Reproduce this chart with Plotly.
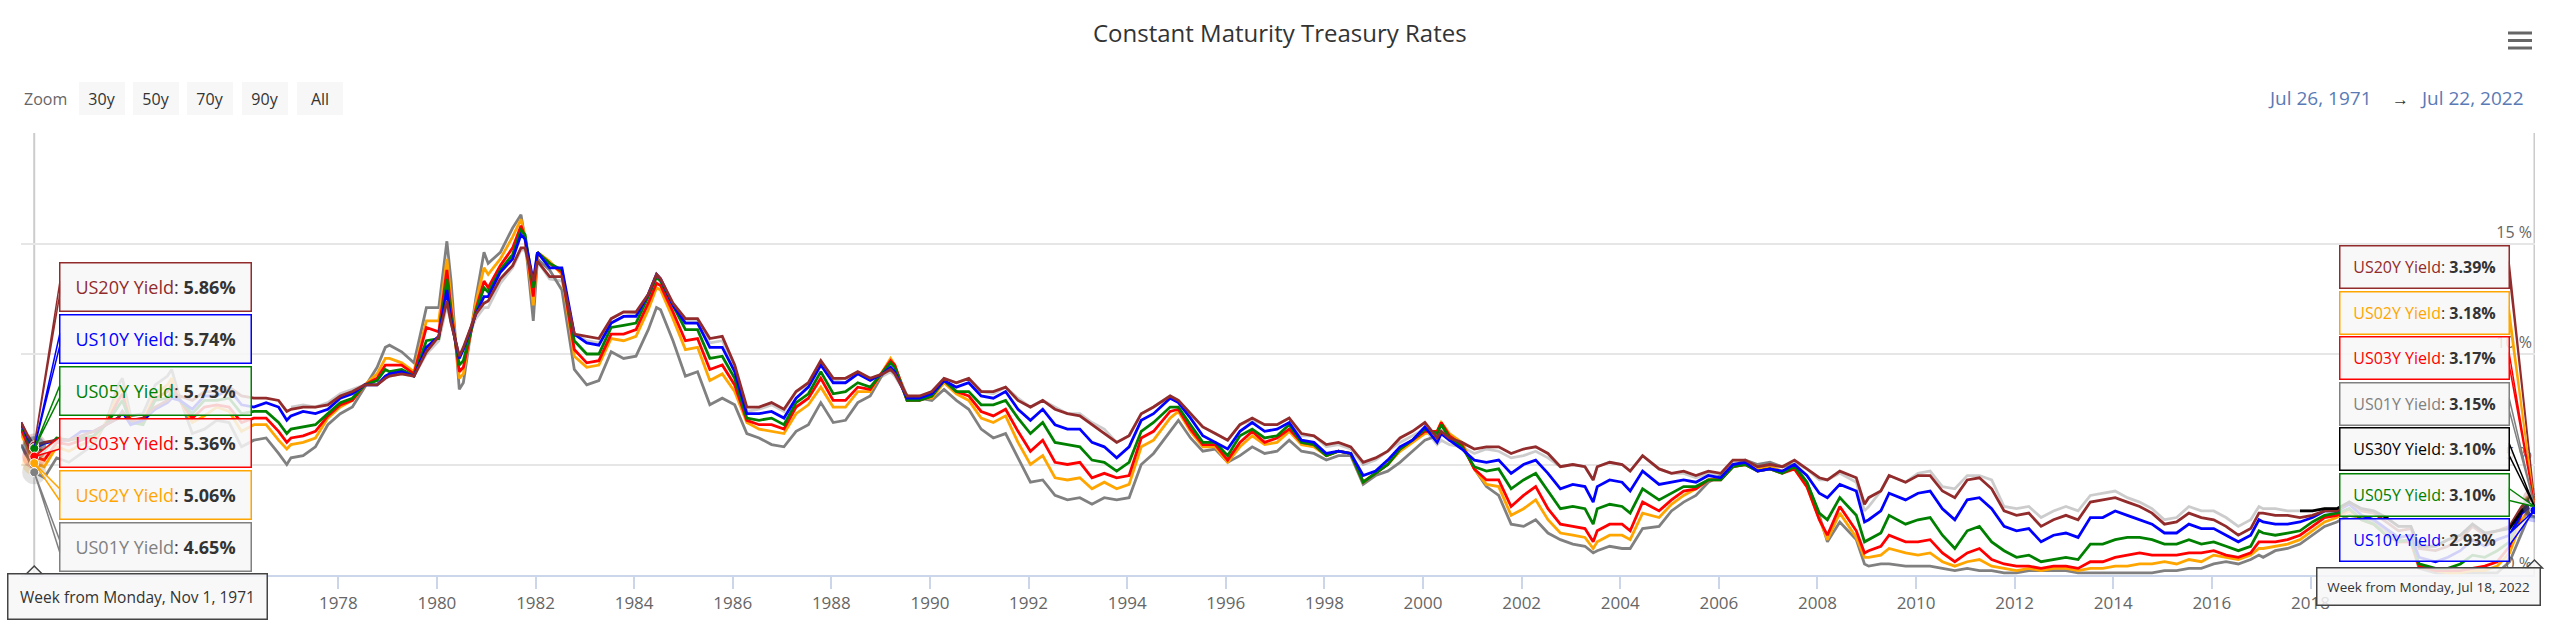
import datetime as dt
import plotly.graph_objects as go

# ---------------- data (approximate readings, percent) ----------------
dates = [
    "1971-07-26", "1971-09-15", "1971-11-01",
    "1972-01-15", "1972-04-15", "1972-07-15", "1972-10-15",
    "1973-01-15", "1973-04-15", "1973-07-15", "1973-08-15", "1973-10-15",
    "1974-01-15", "1974-04-15", "1974-07-15", "1974-08-15", "1974-10-15",
    "1975-01-15", "1975-04-15", "1975-07-15", "1975-10-15",
    "1976-01-15", "1976-04-15", "1976-07-15", "1976-10-15", "1976-12-15",
    "1977-01-15", "1977-04-15", "1977-07-15", "1977-10-15",
    "1978-01-15", "1978-04-15", "1978-07-15", "1978-10-15", "1978-12-15",
    "1979-01-15", "1979-04-15", "1979-07-15", "1979-10-15",
    "1980-01-15", "1980-03-15", "1980-04-15", "1980-06-15", "1980-07-15", "1980-10-15", "1980-12-15",
    "1981-01-15", "1981-04-15", "1981-07-15", "1981-09-15", "1981-10-15", "1981-12-15",
    "1982-01-15", "1982-04-15", "1982-07-15", "1982-10-15",
    "1983-01-15", "1983-04-15", "1983-07-15", "1983-10-15",
    "1984-01-15", "1984-04-15", "1984-06-15", "1984-07-15", "1984-10-15",
    "1985-01-15", "1985-04-15", "1985-07-15", "1985-10-15",
    "1986-01-15", "1986-04-15", "1986-07-15", "1986-10-15",
    "1987-01-15", "1987-04-15", "1987-07-15", "1987-10-15",
    "1988-01-15", "1988-04-15", "1988-07-15", "1988-10-15",
    "1989-01-15", "1989-03-15", "1989-04-15", "1989-07-15", "1989-10-15",
    "1990-01-15", "1990-04-15", "1990-07-15", "1990-10-15",
    "1991-01-15", "1991-04-15", "1991-07-15", "1991-10-15",
    "1992-01-15", "1992-04-15", "1992-07-15", "1992-10-15",
    "1993-01-15", "1993-04-15", "1993-07-15", "1993-10-15",
    "1994-01-15", "1994-04-15", "1994-07-15", "1994-11-15",
    "1995-01-15", "1995-04-15", "1995-07-15", "1995-10-15",
    "1996-01-15", "1996-04-15", "1996-07-15", "1996-10-15",
    "1997-01-15", "1997-04-15", "1997-07-15", "1997-10-15",
    "1998-01-15", "1998-04-15", "1998-07-15", "1998-10-15",
    "1999-01-15", "1999-04-15", "1999-07-15", "1999-10-15",
    "2000-01-15", "2000-04-15", "2000-05-15", "2000-07-15", "2000-10-15",
    "2001-01-15", "2001-04-15", "2001-07-15", "2001-10-15",
    "2002-01-15", "2002-04-15", "2002-07-15", "2002-10-15",
    "2003-01-15", "2003-04-15", "2003-06-15", "2003-07-15", "2003-10-15",
    "2004-01-15", "2004-03-15", "2004-06-15", "2004-10-15",
    "2005-01-15", "2005-04-15", "2005-07-15", "2005-10-15",
    "2006-01-15", "2006-04-15", "2006-07-15", "2006-10-15",
    "2007-01-15", "2007-04-15", "2007-07-15", "2007-10-15",
    "2008-01-15", "2008-03-15", "2008-06-15", "2008-10-15", "2008-12-15",
    "2009-01-15", "2009-04-15", "2009-06-15", "2009-10-15",
    "2010-01-15", "2010-04-15", "2010-07-15", "2010-10-15",
    "2011-01-15", "2011-04-15", "2011-07-15", "2011-10-15",
    "2012-01-15", "2012-04-15", "2012-07-15", "2012-10-15",
    "2013-01-15", "2013-04-15", "2013-07-15", "2013-10-15",
    "2014-01-15", "2014-04-15", "2014-07-15", "2014-10-15",
    "2015-01-15", "2015-04-15", "2015-07-15", "2015-10-15",
    "2016-01-15", "2016-04-15", "2016-07-15", "2016-10-15", "2016-12-15",
    "2017-01-15", "2017-04-15", "2017-07-15", "2017-10-15",
    "2018-01-15", "2018-04-15", "2018-07-15", "2018-10-15",
    "2019-01-15", "2019-04-15", "2019-07-15", "2019-10-15",
    "2020-01-15", "2020-03-15", "2020-07-15", "2020-10-15",
    "2021-01-15", "2021-04-15", "2021-07-15", "2021-10-15",
    "2022-01-15", "2022-04-15", "2022-06-15", "2022-07-18",
]

us01y = [
    5.9, 5.3, 4.65,
    4.4, 5.3, 5.1, 5.5,
    5.9, 6.9, 8.6, 8.9, 7.2,
    7.3, 8.6, 9.0, 9.3, 8.0,
    6.4, 6.6, 7.0, 6.9,
    5.8, 6.1, 6.2, 5.5, 5.0,
    5.3, 5.4, 5.8, 6.8,
    7.3, 7.6, 8.5, 9.4, 10.3,
    10.4, 10.1, 9.6, 12.1,
    12.1, 15.1, 13.3, 8.4, 8.7, 12.5, 14.6,
    14.1, 14.6, 15.7, 16.3, 15.2, 11.5,
    14.3, 13.8, 12.9, 9.3,
    8.6, 8.8, 10.1, 9.8,
    9.9, 11.1, 12.1, 12.0, 10.6,
    9.0, 9.2, 7.7, 8.0,
    7.7, 6.4, 6.2, 5.9,
    5.8, 6.5, 6.8, 7.8,
    6.9, 7.0, 7.8, 8.1,
    9.1, 9.7, 9.4, 8.1, 8.0,
    7.9, 8.4, 7.9, 7.5,
    6.6, 6.2, 6.4, 5.3,
    4.2, 4.3, 3.6, 3.4,
    3.5, 3.2, 3.5, 3.4,
    3.5, 5.0, 5.5, 6.5,
    7.0, 6.2, 5.6, 5.7,
    5.1, 5.4, 5.8, 5.5,
    5.6, 6.1, 5.6, 5.5,
    5.2, 5.4, 5.4, 4.1,
    4.5, 4.7, 5.1, 5.6,
    6.1, 6.3, 6.5, 6.1, 6.0,
    4.8, 4.0, 3.6, 2.3,
    2.2, 2.5, 1.9, 1.6,
    1.4, 1.3, 1.0, 1.1, 1.3,
    1.2, 1.2, 2.1, 2.2,
    2.9, 3.3, 3.6, 4.2,
    4.5, 4.9, 5.2, 5.0,
    5.1, 4.9, 5.0, 4.2,
    2.7, 1.5, 2.4, 1.6, 0.5,
    0.4, 0.5, 0.5, 0.4,
    0.4, 0.4, 0.3, 0.2,
    0.3, 0.2, 0.2, 0.1,
    0.1, 0.2, 0.2, 0.2,
    0.2, 0.1, 0.1, 0.1,
    0.1, 0.1, 0.1, 0.1,
    0.2, 0.2, 0.3, 0.3,
    0.5, 0.6, 0.5, 0.7, 0.9,
    0.8, 1.1, 1.2, 1.4,
    1.8, 2.2, 2.4, 2.7,
    2.6, 2.4, 2.0, 1.6,
    1.5, 0.3, 0.1, 0.1,
    0.1, 0.1, 0.1, 0.1,
    0.6, 1.9, 2.8, 3.15,
]

us02y = [
    6.4, 5.7, 5.06,
    4.9, 5.8, 5.6, 5.9,
    6.1, 6.9, 8.2, 8.5, 7.0,
    7.0, 8.2, 8.6, 8.9, 7.9,
    6.9, 7.2, 7.6, 7.4,
    6.5, 6.8, 6.8, 6.1, 5.7,
    5.9, 6.0, 6.2, 7.1,
    7.6, 7.9, 8.6, 9.1, 9.8,
    9.8, 9.6, 9.2, 11.5,
    11.5, 14.3, 12.5, 8.9, 9.1, 12.3, 13.9,
    13.6, 14.3, 15.3, 16.1, 15.3, 12.2,
    14.6, 14.2, 13.6, 9.9,
    9.4, 9.5, 10.7, 10.6,
    10.8, 12.0, 13.0, 12.9, 11.6,
    10.2, 10.3, 8.8, 9.1,
    8.3, 6.9, 6.6, 6.5,
    6.4, 7.3, 7.7, 8.5,
    7.6, 7.6, 8.3, 8.3,
    9.2, 9.8, 9.5, 7.9, 8.0,
    8.0, 8.7, 8.2, 7.9,
    7.1, 6.9, 7.2, 6.0,
    5.0, 5.4, 4.4, 4.3,
    4.4, 3.9, 4.2, 3.9,
    4.1, 5.8, 6.1, 7.1,
    7.4, 6.5, 5.8, 5.8,
    5.1, 5.8, 6.3, 5.9,
    6.0, 6.5, 5.9, 5.8,
    5.4, 5.6, 5.5, 4.2,
    4.6, 5.0, 5.6, 6.0,
    6.4, 6.5, 6.9, 6.4, 6.0,
    4.8, 4.1, 4.0, 2.7,
    3.0, 3.4, 2.5, 1.9,
    1.8, 1.7, 1.2, 1.5, 1.8,
    1.8, 1.6, 2.8, 2.6,
    3.2, 3.6, 3.9, 4.3,
    4.4, 4.9, 5.0, 4.8,
    4.9, 4.7, 4.8, 4.0,
    2.5, 1.6, 2.8, 1.7, 0.8,
    0.8, 0.9, 1.2, 1.0,
    0.9, 1.0, 0.6, 0.4,
    0.6, 0.7, 0.4, 0.3,
    0.2, 0.3, 0.2, 0.3,
    0.3, 0.2, 0.3, 0.3,
    0.4, 0.4, 0.5, 0.5,
    0.6, 0.5, 0.7, 0.6,
    0.9, 0.8, 0.7, 0.9, 1.2,
    1.2, 1.3, 1.4, 1.6,
    2.0, 2.4, 2.6, 2.9,
    2.5, 2.3, 1.8, 1.5,
    1.5, 0.4, 0.2, 0.1,
    0.1, 0.2, 0.2, 0.4,
    1.0, 2.5, 3.0, 3.18,
]

us03y = [
    6.6, 5.9, 5.36,
    5.2, 6.0, 5.9, 6.1,
    6.3, 6.8, 7.9, 8.2, 6.9,
    6.9, 8.0, 8.3, 8.6, 7.9,
    7.1, 7.6, 7.7, 7.6,
    6.9, 7.1, 7.1, 6.5, 6.0,
    6.2, 6.3, 6.5, 7.2,
    7.7, 7.9, 8.6, 8.9, 9.5,
    9.5, 9.5, 9.1, 11.2,
    11.0, 13.8, 12.0, 9.2, 9.4, 12.0, 13.3,
    13.0, 14.0, 14.8, 15.8, 15.3, 12.6,
    14.6, 14.1, 13.7, 10.2,
    9.6, 9.7, 10.9, 10.9,
    11.1, 12.3, 13.2, 13.1, 11.9,
    10.6, 10.7, 9.3, 9.5,
    8.6, 7.0, 6.8, 6.8,
    6.6, 7.6, 8.0, 8.9,
    7.9, 7.9, 8.5, 8.4,
    9.2, 9.7, 9.5, 7.9, 7.9,
    8.1, 8.8, 8.3, 8.1,
    7.4, 7.2, 7.5, 6.5,
    5.6, 6.1, 5.1, 5.0,
    5.1, 4.4, 4.6, 4.4,
    4.5, 6.2, 6.5, 7.4,
    7.5, 6.6, 5.9, 5.9,
    5.2, 6.0, 6.5, 6.0,
    6.2, 6.6, 6.0, 5.9,
    5.4, 5.6, 5.5, 4.2,
    4.6, 5.0, 5.7, 6.1,
    6.5, 6.5, 6.9, 6.3, 5.9,
    4.8, 4.3, 4.3, 3.1,
    3.6, 4.0, 3.0, 2.3,
    2.2, 2.1, 1.5, 2.0, 2.3,
    2.3, 2.0, 3.3, 2.9,
    3.4, 3.8, 3.9, 4.3,
    4.3, 4.9, 5.0, 4.7,
    4.8, 4.6, 4.8, 4.0,
    2.5, 1.8, 3.1, 2.0, 1.0,
    1.1, 1.3, 1.8, 1.5,
    1.5, 1.6, 1.0, 0.6,
    1.0, 1.2, 0.7, 0.5,
    0.4, 0.4, 0.3, 0.4,
    0.4, 0.3, 0.6, 0.6,
    0.8, 0.9, 1.0, 0.9,
    0.9, 0.9, 1.0, 1.0,
    1.1, 0.9, 0.8, 1.0, 1.5,
    1.5, 1.5, 1.6, 1.8,
    2.2, 2.6, 2.7, 3.0,
    2.5, 2.3, 1.8, 1.5,
    1.5, 0.4, 0.2, 0.2,
    0.2, 0.3, 0.4, 0.6,
    1.3, 2.8, 3.2, 3.17,
]

us05y = [
    6.8, 6.1, 5.73,
    5.6, 6.2, 6.1, 6.2,
    6.3, 6.8, 7.6, 7.9, 6.9,
    6.8, 7.9, 8.0, 8.3, 7.9,
    7.3, 7.9, 7.9, 8.0,
    7.3, 7.4, 7.4, 6.9, 6.4,
    6.6, 6.7, 6.8, 7.3,
    7.8, 8.0, 8.6, 8.8, 9.3,
    9.2, 9.3, 9.0, 10.6,
    10.7, 13.4, 11.7, 9.5, 9.7, 11.9, 13.0,
    12.8, 13.8, 14.5, 15.6, 15.4, 13.0,
    14.6, 14.1, 13.8, 10.6,
    10.0, 10.0, 11.2, 11.3,
    11.4, 12.6, 13.5, 13.3, 12.2,
    11.1, 11.1, 9.8, 9.9,
    8.9, 7.1, 7.0, 7.1,
    6.8, 7.8, 8.2, 9.2,
    8.2, 8.3, 8.7, 8.5,
    9.2, 9.6, 9.4, 7.9, 7.9,
    8.1, 8.8, 8.3, 8.3,
    7.7, 7.7, 7.9, 7.1,
    6.4, 6.9, 6.0, 5.9,
    5.8, 5.2, 5.1, 4.7,
    5.1, 6.5, 6.9, 7.6,
    7.6, 6.8, 6.0, 6.0,
    5.4, 6.3, 6.6, 6.2,
    6.3, 6.8, 6.0, 5.9,
    5.4, 5.6, 5.5, 4.2,
    4.6, 5.0, 5.7, 6.1,
    6.6, 6.4, 6.8, 6.2, 5.8,
    4.9, 4.7, 4.8, 3.9,
    4.3, 4.6, 3.8, 3.0,
    3.1, 3.0, 2.3, 3.0, 3.2,
    3.1, 2.8, 3.9, 3.4,
    3.7, 4.0, 4.0, 4.3,
    4.3, 4.9, 5.0, 4.7,
    4.8, 4.6, 4.9, 4.2,
    2.8, 2.5, 3.5, 2.7, 1.5,
    1.6, 1.9, 2.7, 2.3,
    2.5, 2.6, 1.8, 1.2,
    2.0, 2.2, 1.5, 1.1,
    0.8, 0.9, 0.6, 0.7,
    0.8, 0.7, 1.4, 1.4,
    1.6, 1.7, 1.7, 1.6,
    1.4, 1.4, 1.6, 1.4,
    1.5, 1.3, 1.1, 1.3, 2.0,
    1.9, 1.8, 1.9, 2.0,
    2.4, 2.7, 2.8, 3.0,
    2.5, 2.3, 1.8, 1.5,
    1.6, 0.5, 0.3, 0.3,
    0.5, 0.9, 0.8, 1.1,
    1.5, 2.9, 3.2, 3.10,
]

us10y = [
    6.9, 6.2, 5.74,
    5.95, 6.1, 6.1, 6.5,
    6.5, 6.8, 7.1, 7.4, 6.8,
    7.0, 7.5, 7.8, 8.0, 7.9,
    7.5, 8.1, 8.1, 8.4,
    7.7, 7.6, 7.8, 7.6, 7.0,
    7.2, 7.4, 7.3, 7.5,
    8.0, 8.2, 8.6, 8.6, 9.0,
    9.1, 9.2, 9.0, 10.3,
    10.8, 12.9, 11.5, 9.8, 10.2, 11.8, 12.6,
    12.6, 13.7, 14.3, 15.4, 15.2, 13.3,
    14.6, 13.9, 13.9, 10.9,
    10.5, 10.4, 11.4, 11.7,
    11.7, 12.7, 13.6, 13.4, 12.2,
    11.4, 11.4, 10.3, 10.3,
    9.2, 7.3, 7.3, 7.4,
    7.1, 8.0, 8.5, 9.5,
    8.7, 8.7, 9.1, 8.8,
    9.1, 9.4, 9.2, 8.0, 8.0,
    8.2, 8.8, 8.5, 8.7,
    8.1, 8.0, 8.3, 7.5,
    7.0, 7.5, 6.8, 6.6,
    6.6, 6.0, 5.8, 5.3,
    5.8, 7.0, 7.3, 8.0,
    7.8, 7.1, 6.3, 6.0,
    5.7, 6.5, 6.9, 6.5,
    6.6, 6.9, 6.1, 6.0,
    5.5, 5.6, 5.5, 4.5,
    4.7, 5.2, 5.8, 6.1,
    6.7, 6.0, 6.4, 6.1, 5.7,
    5.2, 5.1, 5.2, 4.6,
    5.0, 5.2, 4.6, 3.9,
    4.1, 4.0, 3.3, 4.0, 4.3,
    4.2, 3.8, 4.7, 4.1,
    4.2, 4.3, 4.2, 4.5,
    4.4, 5.0, 5.1, 4.7,
    4.8, 4.7, 5.0, 4.5,
    3.7, 3.5, 4.1, 3.8, 2.4,
    2.5, 2.9, 3.7, 3.4,
    3.7, 3.8, 3.0, 2.5,
    3.4, 3.5, 3.0, 2.2,
    2.0, 2.1, 1.5, 1.8,
    1.9, 1.7, 2.6, 2.6,
    2.9, 2.7, 2.5, 2.3,
    1.9, 1.9, 2.3, 2.1,
    2.1, 1.8, 1.5, 1.8, 2.5,
    2.4, 2.3, 2.3, 2.4,
    2.6, 2.9, 2.9, 3.2,
    2.7, 2.5, 2.1, 1.7,
    1.8, 0.8, 0.6, 0.8,
    1.1, 1.6, 1.3, 1.6,
    1.8, 2.8, 3.1, 2.93,
]

us20y = [
    6.9, 6.3, 5.86,
    6.0, 6.1, 6.1, 6.3,
    6.5, 6.8, 7.1, 7.4, 7.0,
    7.1, 7.6, 7.9, 8.1, 8.1,
    7.9, 8.3, 8.3, 8.5,
    8.1, 8.0, 8.0, 7.9, 7.4,
    7.5, 7.6, 7.6, 7.7,
    8.1, 8.3, 8.6, 8.6, 8.9,
    9.0, 9.1, 9.0, 10.1,
    10.8, 12.4, 11.4, 9.9, 10.3, 11.8, 12.3,
    12.4, 13.4, 14.0, 14.8, 14.8, 13.3,
    14.2, 13.5, 13.5, 10.9,
    10.8, 10.7, 11.6, 11.9,
    11.9, 12.7, 13.6, 13.4, 12.3,
    11.6, 11.6, 10.7, 10.8,
    9.5, 7.6, 7.6, 7.8,
    7.5, 8.3, 8.7, 9.7,
    8.9, 8.9, 9.2, 8.9,
    9.1, 9.3, 9.1, 8.1, 8.1,
    8.3, 8.9, 8.7, 8.9,
    8.3, 8.3, 8.5, 7.9,
    7.6, 7.9, 7.5, 7.3,
    7.2, 6.8, 6.4, 6.0,
    6.3, 7.3, 7.6, 8.1,
    7.9, 7.3, 6.7, 6.4,
    6.1, 6.8, 7.1, 6.8,
    6.8, 7.1, 6.4, 6.3,
    5.9, 6.0, 5.8, 5.1,
    5.3, 5.6, 6.2, 6.5,
    6.9, 6.2, 6.5, 6.2, 6.0,
    5.7, 5.8, 5.8, 5.5,
    5.7, 5.8, 5.5, 4.9,
    5.0, 4.9, 4.3, 4.9, 5.1,
    5.0, 4.7, 5.4, 4.8,
    4.6, 4.7, 4.5, 4.7,
    4.6, 5.2, 5.2, 4.9,
    5.0, 4.9, 5.2, 4.8,
    4.4, 4.3, 4.7, 4.4, 3.2,
    3.5, 3.8, 4.5, 4.2,
    4.5, 4.5, 3.8, 3.5,
    4.3, 4.4, 3.9, 2.9,
    2.7, 2.8, 2.2, 2.5,
    2.7, 2.5, 3.3, 3.4,
    3.5, 3.3, 3.1, 2.8,
    2.3, 2.4, 2.8, 2.6,
    2.5, 2.2, 1.8, 2.1, 2.8,
    2.8, 2.7, 2.7, 2.6,
    2.7, 2.9, 2.9, 3.3,
    2.9, 2.8, 2.4, 2.0,
    2.1, 1.2, 1.1, 1.3,
    1.6, 2.2, 1.8, 2.0,
    2.2, 3.1, 3.5, 3.39,
]

us30y_start = "1977-01-15"
us30y = [
    7.6, 7.7, 7.6, 7.8,
    8.2, 8.4, 8.6, 8.6, 8.9,
    9.0, 9.1, 9.0, 10.0,
    10.6, 12.2, 11.4, 9.9, 10.2, 11.6, 12.1,
    12.1, 13.2, 13.9, 14.7, 14.7, 13.2,
    14.2, 13.4, 13.3, 10.9,
    10.6, 10.5, 11.4, 11.7,
    11.8, 12.6, 13.4, 13.3, 12.1,
    11.5, 11.5, 10.5, 10.6,
    9.4, 7.4, 7.5, 7.7,
    7.4, 8.3, 8.6, 9.6,
    8.8, 8.9, 9.1, 8.9,
    9.0, 9.2, 9.0, 8.1, 8.0,
    8.3, 8.9, 8.7, 8.9,
    8.3, 8.2, 8.5, 8.0,
    7.6, 7.9, 7.6, 7.3,
    7.3, 6.9, 6.6, 6.0,
    6.3, 7.3, 7.6, 8.1,
    7.9, 7.3, 6.7, 6.4,
    6.1, 6.8, 7.0, 6.8,
    6.8, 7.1, 6.3, 6.3,
    5.8, 5.9, 5.7, 5.0,
    5.2, 5.6, 6.0, 6.3,
    6.6, 5.9, 6.1, 5.9, 5.8,
    5.5, 5.7, 5.6, 5.3,
    5.4, 5.6, 5.3, 4.9,
    5.0, 4.9, 4.3, 4.9, 5.1,
    5.0, 4.7, 5.4, 4.8,
    4.6, 4.6, 4.4, 4.6,
    4.5, 5.1, 5.1, 4.8,
    4.9, 4.9, 5.1, 4.8,
    4.3, 4.3, 4.6, 4.2, 2.9,
    3.1, 3.8, 4.5, 4.2,
    4.6, 4.7, 4.0, 3.9,
    4.5, 4.5, 4.3, 3.1,
    3.0, 3.1, 2.6, 2.9,
    3.1, 2.9, 3.6, 3.7,
    3.8, 3.5, 3.3, 3.0,
    2.5, 2.6, 3.1, 2.9,
    2.9, 2.6, 2.2, 2.5, 3.1,
    3.0, 3.0, 2.9, 2.9,
    2.9, 3.0, 3.0, 3.3,
    3.0, 2.9, 2.6, 2.2,
    2.2, 1.3, 1.3, 1.6,
    1.8, 2.3, 1.9, 2.0,
    2.1, 2.9, 3.3, 3.10,
]
us30y_dark_from = "2017-10-15"

series_names = ["US01Y", "US02Y", "US03Y", "US05Y", "US10Y", "US20Y"]
series_values = [us01y, us02y, us03y, us05y, us10y, us20y]
colors = {"US01Y": "#808080", "US02Y": "#FFA500", "US03Y": "#FF0000",
          "US05Y": "#008000", "US10Y": "#0000FF", "US20Y": "#922b2b",
          "US30Y": "#000000"}

left_date = "1971-11-01"
left_tip = [("US20Y", 5.86), ("US10Y", 5.74), ("US05Y", 5.73),
            ("US03Y", 5.36), ("US02Y", 5.06), ("US01Y", 4.65)]
right_date = "2022-07-18"
right_tip = [("US20Y", 3.39), ("US02Y", 3.18), ("US03Y", 3.17), ("US01Y", 3.15),
             ("US30Y", 3.10), ("US05Y", 3.10), ("US10Y", 2.93)]

x_start, x_end = "1971-07-26", "2022-07-22"
tick_years = list(range(1978, 2019, 2))
y_ticks = [0, 5, 10, 15, 20]
y_tick_text = ["0 %", "5 %", "10 %", "15 %", ""]
zoom_buttons = ["30y", "50y", "70y", "90y", "All"]

for v in series_values:
    assert len(v) == len(dates), len(v)
i30 = dates.index(us30y_start)
assert len(us30y) == len(dates) - i30
iDark = dates.index(us30y_dark_from)

# ---------------- geometry helpers (pixel -> paper) ----------------
W, H = 2560, 631
ML, MR, MT, MB = 21, 25, 133, 56
PW, PH = W - ML - MR, H - MT - MB
Y0PX = H - MB  # pixel row of 0 %
YMAX = 20.0
FONT = "Open Sans"


def X(px):
    return (px - ML) / PW


def Y(py):
    return (Y0PX - py) / PH


def date_px(d):
    t0 = dt.datetime.fromisoformat(x_start)
    t1 = dt.datetime.fromisoformat(x_end)
    t = dt.datetime.fromisoformat(d)
    return ML + (t - t0).total_seconds() / (t1 - t0).total_seconds() * PW


def val_py(v):
    return Y0PX - v / YMAX * PH


# ---------------- traces ----------------
fig = go.Figure()
LW = 2.8

fig.add_trace(go.Scatter(x=dates[i30:], y=us30y, mode="lines",
                         line=dict(color="rgba(0,0,0,0.2)", width=LW),
                         hoverinfo="skip"))
for name, vals in zip(series_names, series_values):
    fig.add_trace(go.Scatter(x=dates, y=vals, mode="lines", name=name,
                             line=dict(color=colors[name], width=LW)))
fig.add_trace(go.Scatter(x=dates[iDark:], y=us30y[iDark - i30:], mode="lines",
                         name="US30Y", line=dict(color="#000000", width=LW)))

# hover markers with halos
for d, tip in ((left_date, left_tip), (right_date, right_tip)):
    names = [n for n, _ in tip]
    vals = [v for _, v in tip]
    cols = [colors[n] for n in names]
    fig.add_trace(go.Scatter(x=[d] * len(vals), y=vals, mode="markers",
                             marker=dict(size=24, color=cols, opacity=0.22),
                             hoverinfo="skip"))
    fig.add_trace(go.Scatter(x=[d] * len(vals), y=vals, mode="markers",
                             marker=dict(size=9, color=cols,
                                         line=dict(color="white", width=1)),
                             hoverinfo="skip"))

# ---------------- annotations ----------------
ann = []
shapes = []

# title
ann.append(dict(text="Constant Maturity Treasury Rates", xref="paper", yref="paper",
                x=X(1280), y=Y(33), xanchor="center", yanchor="middle", showarrow=False,
                font=dict(family=FONT, size=24, color="#333333")))

# range selector
ann.append(dict(text="Zoom", xref="paper", yref="paper", x=X(22), y=Y(99),
                xanchor="left", yanchor="middle", showarrow=False,
                font=dict(family=FONT, size=16, color="#666666")))
btn_x = [79, 133, 187, 242, 297]
for bx, lab in zip(btn_x, zoom_buttons):
    ann.append(dict(text=lab, xref="paper", yref="paper", x=X(bx), y=Y(82),
                    xanchor="left", yanchor="top", showarrow=False,
                    width=46, height=33, borderpad=0, borderwidth=0,
                    bgcolor="#f7f7f7", align="center", valign="middle",
                    font=dict(family=FONT, size=16, color="#333333")))
ann.append(dict(text="Jul 26, 1971", xref="paper", yref="paper", x=X(2320), y=Y(98),
                xanchor="center", yanchor="middle", showarrow=False,
                font=dict(family=FONT, size=19, color="#5a7ab5")))
ann.append(dict(text="→", xref="paper", yref="paper", x=X(2400), y=Y(98),
                xanchor="center", yanchor="middle", showarrow=False,
                font=dict(family=FONT, size=17, color="#333333")))
ann.append(dict(text="Jul 22, 2022", xref="paper", yref="paper", x=X(2472), y=Y(98),
                xanchor="center", yanchor="middle", showarrow=False,
                font=dict(family=FONT, size=19, color="#5a7ab5")))

# hamburger menu icon
for yy in (33, 40.5, 48):
    shapes.append(dict(type="line", xref="paper", yref="paper",
                       x0=X(2508), x1=X(2532), y0=Y(yy), y1=Y(yy),
                       line=dict(color="#666666", width=3)))

TIP_BG = "rgba(247,247,247,0.85)"


def tip_box(x0, y0, x1, y1, text, border, size, bw=1.5, pad=2):
    return dict(xref="paper", yref="paper", x=X(x0), y=Y(y0), xanchor="left", yanchor="top",
                width=(x1 - x0) - 2 * (bw + pad), height=(y1 - y0) - 2 * (bw + pad),
                text=text, showarrow=False, align="center", valign="middle",
                bgcolor=TIP_BG, bordercolor=border, borderwidth=bw, borderpad=pad,
                font=dict(family=FONT, size=size, color="#333333"))


def tip_text(name, v):
    return (f"<span style='color:{colors[name]}'>{name} Yield</span>: "
            f"<b>{v:.2f}%</b>")


# crosshairs
for d in (left_date, right_date):
    shapes.append(dict(type="line", xref="x", yref="paper", x0=d, x1=d, y0=0, y1=1,
                       layer="below", line=dict(color="#cccccc", width=2)))

# left split tooltip
lx = date_px(left_date)
for i, (name, v) in enumerate(left_tip):
    top = 262 + 52 * i
    bot = top + 50
    mid = (top + bot) / 2
    shapes.append(dict(type="path", xref="paper", yref="paper", layer="above",
                       path=f"M {X(60)},{Y(mid - 6)} L {X(lx)},{Y(val_py(v))} L {X(60)},{Y(mid + 6)} Z",
                       fillcolor=TIP_BG, line=dict(color=colors[name], width=1.5)))
    ann.append(tip_box(59, top, 252, bot, tip_text(name, v), colors[name], 18))

# right split tooltip
rx = date_px(right_date)
for i, (name, v) in enumerate(right_tip):
    top = 245 + 45.5 * i
    bot = top + 44
    mid = (top + bot) / 2
    shapes.append(dict(type="path", xref="paper", yref="paper", layer="above",
                       path=f"M {X(2509)},{Y(mid - 6)} L {X(rx)},{Y(val_py(v))} L {X(2509)},{Y(mid + 6)} Z",
                       fillcolor=TIP_BG, line=dict(color=colors[name], width=1.5)))
    ann.append(tip_box(2339, top, 2510, bot, tip_text(name, v), colors[name], 16))

# x headers with pointers
shapes.append(dict(type="path", xref="paper", yref="paper", layer="above",
                   path=f"M {X(lx - 8)},{Y(574)} L {X(lx)},{Y(566)} L {X(lx + 8)},{Y(574)} Z",
                   fillcolor=TIP_BG, line=dict(color="#444444", width=1.5)))
ann.append(tip_box(7, 573, 268, 620, "Week from Monday, Nov 1, 1971", "#444444", 15.5))
shapes.append(dict(type="path", xref="paper", yref="paper", layer="above",
                   path=f"M {X(rx - 8)},{Y(568)} L {X(rx)},{Y(560)} L {X(rx + 8)},{Y(568)} Z",
                   fillcolor=TIP_BG, line=dict(color="#444444", width=1.5)))
ann.append(tip_box(2316, 567, 2541, 606, "Week from Monday, Jul 18, 2022", "#444444", 13.5))

# ---------------- layout ----------------
fig.update_layout(
    width=W, height=H,
    margin=dict(l=ML, r=MR, t=MT, b=MB, pad=0),
    paper_bgcolor="white", plot_bgcolor="white",
    showlegend=False,
    font=dict(family=FONT, color="#666666"),
    xaxis=dict(type="date", range=[x_start, x_end],
               tickvals=[f"{y}-01-01" for y in tick_years],
               ticktext=[str(y) for y in tick_years],
               ticks="outside", ticklen=12, tickwidth=1.5,
               tickcolor="#ccd6eb", showline=True, linecolor="#ccd6eb", linewidth=1.5,
               showgrid=False, zeroline=False,
               tickfont=dict(family=FONT, size=17, color="#666666")),
    yaxis=dict(range=[0, YMAX], tickvals=y_ticks, ticktext=y_tick_text, side="right",
               ticklabelposition="inside top", showgrid=True, gridcolor="#e6e6e6",
               gridwidth=1.5, zeroline=False, showline=False, ticks="",
               tickfont=dict(family=FONT, size=16, color="#666666")),
    annotations=ann,
    shapes=shapes,
)

# the page body has a default 8px margin; remove it so the figure fills the window
fig.write_html("out.html", config={"displayModeBar": False},
               post_script="document.body.style.margin='0px';")
